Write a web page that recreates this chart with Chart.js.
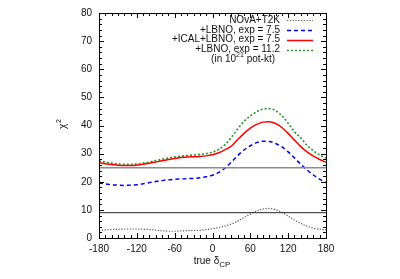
<!DOCTYPE html>
<html>
<head>
<meta charset="utf-8">
<script src="https://cdn.jsdelivr.net/npm/chart.js@4"></script>
<style>
  html, body { margin: 0; padding: 0; background: #fff; }
  #wrap { width: 400px; height: 279px; }
</style>
</head>
<body>
<div id="wrap"><canvas id="chi2Chart" width="400" height="279"></canvas></div>
<script>
// true delta_CP grid (degrees)
var deltaCP = [-180, -170, -160, -150, -140, -130, -120, -110, -100, -90, -80, -70, -60, -50, -40, -30, -20, -10,
  0, 10, 20, 30, 40, 50, 60, 70, 80, 90, 100, 110, 120, 130, 140, 150, 160, 170, 180];

// chi^2
var novaT2K = [2.8, 2.9, 3.0, 3.1, 3.2, 3.2, 3.2, 3.1, 3.0, 2.8, 2.6, 2.4, 2.4, 2.5, 2.6, 2.7, 2.8, 3.0,
  3.3, 3.7, 4.3, 5.0, 6.0, 7.3, 8.5, 9.6, 10.3, 10.5, 10.1, 9.1, 7.8, 6.4, 5.2, 4.2, 3.5, 3.1, 2.9];
var lbno75 = [19.6, 19.2, 18.9, 18.8, 18.7, 18.8, 18.9, 19.3, 19.7, 20.1, 20.4, 20.7, 20.9, 21.0, 21.1, 21.2, 21.4, 21.8,
  22.3, 23.3, 24.9, 27.0, 29.3, 31.3, 32.8, 33.9, 34.4, 34.3, 33.6, 32.4, 30.6, 28.5, 26.2, 24.2, 22.4, 20.9, 19.7];
var icalLbno75 = [26.8, 26.4, 26.1, 25.9, 25.8, 25.8, 25.9, 26.2, 26.6, 27.0, 27.5, 27.9, 28.3, 28.6, 28.8, 28.9, 29.0, 29.2,
  29.6, 30.3, 31.4, 32.7, 35.0, 37.2, 39.1, 40.4, 41.2, 41.3, 40.7, 39.3, 37.2, 34.8, 32.5, 30.6, 29.1, 27.9, 26.9];
var lbno112 = [27.4, 27.0, 26.6, 26.3, 26.2, 26.2, 26.3, 26.6, 27.0, 27.5, 28.0, 28.4, 28.8, 29.1, 29.3, 29.5, 29.7, 30.0,
  30.5, 31.5, 33.2, 35.8, 38.8, 41.5, 43.4, 44.9, 45.8, 46.0, 45.3, 43.5, 40.8, 37.8, 35.6, 32.9, 31.0, 29.5, 28.4];

// reference levels
var refRange = [-180, 180];
var level25 = [25, 25];
var level9 = [9, 9];

var xTicks = [-180, -120, -60, 0, 60, 120, 180];
var yTicks = [0, 10, 20, 30, 40, 50, 60, 70, 80];

var legendLabels = ["NOvA+T2K", "+LBNO, exp = 7.5", "+ICAL+LBNO, exp = 7.5", "+LBNO, exp = 11.2"];

function pts(xs, ys) {
  return xs.map(function (x, i) { return { x: x, y: ys[i] }; });
}

var FONT = "Liberation Sans, Arial, Helvetica, sans-serif";

var series = [
  { label: legendLabels[0], data: novaT2K, color: "#555555", dash: [1.2, 1.6], width: 1.2 },
  { label: legendLabels[1], data: lbno75, color: "#0000ee", dash: [4, 3], width: 1.5 },
  { label: legendLabels[2], data: icalLbno75, color: "#ff0000", dash: [], width: 1.5 },
  { label: legendLabels[3], data: lbno112, color: "#2e962e", dash: [2, 2], width: 1.7 }
];

var datasets = [
  { label: "25", data: pts(refRange, level25), borderColor: "#8c8c8c", borderWidth: 1.5, pointRadius: 0, tension: 0 },
  { label: "9", data: pts(refRange, level9), borderColor: "#222222", borderWidth: 1, pointRadius: 0, tension: 0 }
];
series.forEach(function (s) {
  datasets.push({
    label: s.label,
    data: pts(deltaCP, s.data),
    borderColor: s.color,
    borderDash: s.dash,
    borderWidth: s.width,
    pointRadius: 0,
    tension: 0.4,
    cubicInterpolationMode: "monotone",
    fill: false
  });
});

// gnuplot style frame, inward ticks, axis titles and legend
var gnuplotDecor = {
  id: "gnuplotDecor",
  afterDraw: function (chart) {
    var c = chart.ctx, a = chart.chartArea;
    var xs = chart.scales.x, ys = chart.scales.y;
    c.save();
    c.strokeStyle = "#000";
    c.lineWidth = 1;
    c.setLineDash([]);
    c.strokeRect(Math.round(a.left) + 0.5, Math.round(a.top) + 0.5, Math.round(a.right - a.left), Math.round(a.bottom - a.top));

    c.beginPath();
    for (var v = -180; v <= 180; v += 10) {
      var px = Math.round(xs.getPixelForValue(v)) + 0.5;
      var len = (v % 60 === 0) ? 5 : 3;
      c.moveTo(px, a.bottom); c.lineTo(px, a.bottom - len);
      c.moveTo(px, a.top); c.lineTo(px, a.top + len);
    }
    for (var w = 0; w <= 80; w += 2) {
      var py = Math.round(ys.getPixelForValue(w)) + 0.5;
      var l2 = (w % 10 === 0) ? 5 : 3;
      c.moveTo(a.left, py); c.lineTo(a.left + l2, py);
      c.moveTo(a.right, py); c.lineTo(a.right - l2, py);
    }
    c.stroke();

    // x title: true δ_CP
    c.fillStyle = "#111";
    c.textBaseline = "alphabetic";
    var t1 = "true \u03b4";
    c.font = "8px " + FONT;
    var wSub = c.measureText("CP").width;
    c.font = "10px " + FONT;
    var w1 = c.measureText(t1).width;
    var startX = 212 - (w1 + wSub) / 2;
    c.textAlign = "left";
    c.fillText(t1, startX, 264);
    c.font = "8px " + FONT;
    c.fillText("CP", startX + w1, 267);

    // y title: χ²
    c.save();
    c.translate(66, 126);
    c.rotate(-Math.PI / 2);
    c.font = "10px " + FONT;
    c.textAlign = "left";
    c.fillText("\u03c7", -3, 0);
    c.font = "7px " + FONT;
    c.fillText("2", 3, -5);
    c.restore();

    // legend
    var rowsY = [20, 30, 39.5, 49.5];
    c.font = "10px " + FONT;
    c.textAlign = "right";
    c.textBaseline = "middle";
    series.forEach(function (s, i) {
      c.fillStyle = "#111";
      c.fillText(s.label, 280, rowsY[i]);
      c.beginPath();
      c.strokeStyle = s.color;
      c.lineWidth = s.width;
      c.setLineDash(s.dash);
      c.moveTo(287, Math.round(rowsY[i]) + 0.5);
      c.lineTo(313, Math.round(rowsY[i]) + 0.5);
      c.stroke();
    });
    c.setLineDash([]);
    // (in 10^21 pot-kt)
    c.fillStyle = "#111";
    c.textAlign = "left";
    c.textBaseline = "middle";
    var p1 = "(in 10", p2 = "21", p3 = " pot-kt)";
    c.font = "10px " + FONT;
    var wp1 = c.measureText(p1).width, wp3 = c.measureText(p3).width;
    c.font = "7px " + FONT;
    var wp2 = c.measureText(p2).width;
    var sx = 275 - (wp1 + wp2 + wp3);
    c.font = "10px " + FONT;
    c.fillText(p1, sx, 59.5);
    c.font = "7px " + FONT;
    c.fillText(p2, sx + wp1, 55);
    c.font = "10px " + FONT;
    c.fillText(p3, sx + wp1 + wp2, 59.5);
    c.restore();
  }
};

var ctx = document.getElementById("chi2Chart");
var myChart = new Chart(ctx, {
  type: "line",
  data: { datasets: datasets },
  options: {
    responsive: false,
    animation: false,
    layout: { padding: { left: 69, right: 74, top: 11, bottom: 21 } },
    plugins: { legend: { display: false }, tooltip: { enabled: false } },
    scales: {
      x: {
        type: "linear",
        min: -180,
        max: 180,
        afterFit: function (s) { s.height = 20; },
        afterBuildTicks: function (s) { s.ticks = xTicks.map(function (v) { return { value: v }; }); },
        grid: { display: false, drawTicks: false },
        border: { display: false },
        ticks: { color: "#111", padding: 5, maxRotation: 0, autoSkip: false, font: { family: FONT, size: 10 } }
      },
      y: {
        min: 0,
        max: 80,
        afterFit: function (s) { s.width = 30; },
        afterBuildTicks: function (s) { s.ticks = yTicks.map(function (v) { return { value: v }; }); },
        grid: { display: false, drawTicks: false },
        border: { display: false },
        ticks: { color: "#111", padding: 7, autoSkip: false, font: { family: FONT, size: 10 } }
      }
    }
  },
  plugins: [gnuplotDecor]
});
</script>
</body>
</html>
